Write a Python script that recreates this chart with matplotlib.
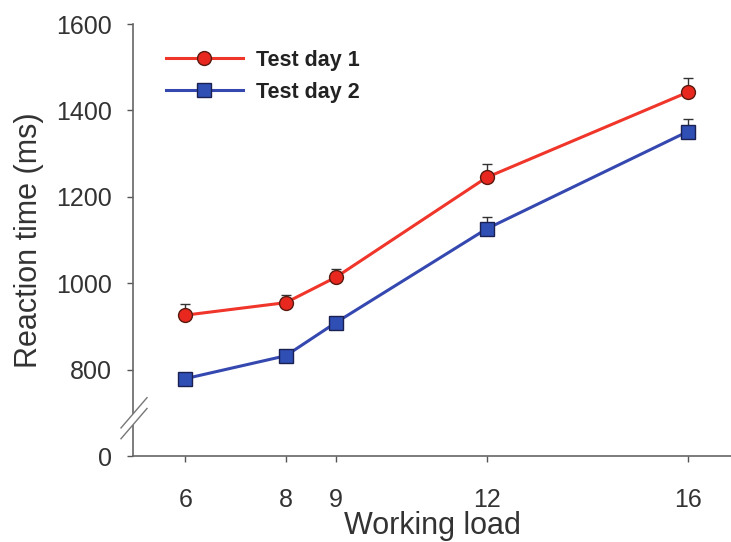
import matplotlib
matplotlib.use("Agg")
import matplotlib.pyplot as plt
from matplotlib.patches import Polygon
from matplotlib.lines import Line2D

plt.rcParams['font.family'] = ['Liberation Sans', 'DejaVu Sans']

loads = [6, 8, 9, 12, 16]
day1 = [926, 955, 1014, 1245, 1442]
day1_err = [25, 18, 20, 30, 32]
day2 = [779, 832, 909, 1126, 1351]
day2_err = [10, 10, 12, 28, 30]
series_labels = ["Test day 1", "Test day 2"]
ytick_vals = [600, 800, 1000, 1200, 1400, 1600]
ytick_labels = ["0", "800", "1000", "1200", "1400", "1600"]

fig = plt.figure(figsize=(7.31, 5.42), dpi=100)
ax = fig.add_axes([133/731, 1 - 456/542, 1 - 133/731, (456 - 24)/542])

red = "#f0352a"
blue = "#3548b0"
style1 = dict(color=red, lw=2.2, marker='o', ms=10, mfc="#e8281e", mec="#5a1a10", mew=1.0)
style2 = dict(color=blue, lw=2.2, marker='s', ms=9.5, mfc="#2f4fb5", mec="#1a2050", mew=1.0)
ax.errorbar(loads, day1, yerr=[[0]*5, day1_err], ecolor="#333333", elinewidth=1.0,
            capsize=3.5, capthick=1.0, zorder=3, **style1)
ax.errorbar(loads, day2, yerr=[[0]*5, day2_err], ecolor="#333333", elinewidth=1.0,
            capsize=3.5, capthick=1.0, zorder=3, **style2)

ax.set_xlim(4.96, 16.86)
ax.set_ylim(600, 1600)
ax.set_xticks(loads)
ax.set_yticks(ytick_vals)
ax.set_yticklabels(ytick_labels)
ax.tick_params(axis='both', labelsize=18, colors="#555555", length=4, width=1)
ax.tick_params(axis='y', pad=11)
ax.tick_params(axis='x', pad=19)
for lbl in ax.get_xticklabels() + ax.get_yticklabels():
    lbl.set_color("#333333")
ax.spines['top'].set_visible(False)
ax.spines['right'].set_visible(False)
for s in ['left', 'bottom']:
    ax.spines[s].set_color("#666666")
    ax.spines[s].set_linewidth(1.2)

ax.set_xlabel("Working load", fontsize=22, color="#333333", labelpad=-1)
ax.set_ylabel("Reaction time (ms)", fontsize=22, color="#333333", labelpad=9)

# axis break on y spine
tr = ax.transAxes
w = 1.0 / 598
gap = Polygon([(-12*w, 0.04), (14*w, 0.11), (14*w, 0.135), (-12*w, 0.065)],
              closed=True, transform=tr, facecolor='white', edgecolor='none',
              clip_on=False, zorder=5)
ax.add_patch(gap)
for off in (0.0, 0.025):
    ax.add_line(Line2D([-12*w, 14*w], [0.04 + off, 0.11 + off], transform=tr,
                       color="#777777", lw=1.0, clip_on=False, zorder=6))

handles = [Line2D([], [], **style1), Line2D([], [], **style2)]
leg = ax.legend(handles, series_labels, loc='upper left', bbox_to_anchor=(0.022, 0.985),
                frameon=False, prop={'weight': 'bold', 'size': 15.5}, handlelength=3.6,
                labelspacing=0.5, handletextpad=0.6)
for t in leg.get_texts():
    t.set_color("#222222")

fig.savefig("out.png", dpi=100)
